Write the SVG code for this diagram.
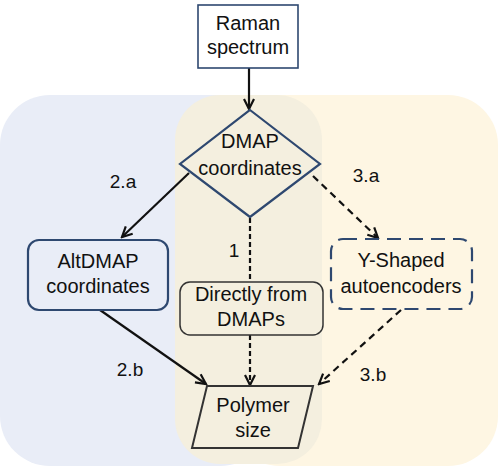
<svg xmlns="http://www.w3.org/2000/svg" width="498" height="468" viewBox="0 0 498 468">
<style>
text{font-family:"Liberation Sans",Arial,sans-serif;font-size:20px;fill:#111;text-anchor:middle}
.lbl{font-size:19px}
.arr{fill:none;stroke:#111;stroke-width:2.2}
.dash{stroke-dasharray:7 5}
.dshort{stroke-dasharray:5 3}
.blue{fill:none;stroke:#2e4870;stroke-width:2.2}
</style>
<defs>
<marker id="ah" markerUnits="userSpaceOnUse" markerWidth="14" markerHeight="14" viewBox="-12 -7 14 14" refX="0" refY="0" orient="auto">
<path d="M-10,-5 L0,0 L-10,5" fill="none" stroke="#111" stroke-width="2.2"/>
</marker>
</defs>
<g id="backgrounds">
<rect x="0" y="95" width="270" height="371" rx="50" fill="#e9edf7"/>
<rect x="230" y="95" width="268" height="371" rx="50" fill="#fef6e3"/>
<rect x="175" y="95" width="147" height="369" rx="45" fill="#f4efdf"/>
</g>
<g id="connectors">
<line class="arr" x1="249" y1="68" x2="249" y2="109" stroke="#333" marker-end="url(#ah)"/>
<line class="arr" x1="189" y1="173" x2="122" y2="237" marker-end="url(#ah)"/>
<line class="arr dash" x1="313" y1="176" x2="378" y2="238" marker-end="url(#ah)"/>
<line class="arr dshort" x1="250" y1="218" x2="250" y2="282"/>
<line class="arr dshort" x1="250" y1="335" x2="250" y2="385" marker-end="url(#ah)"/>
<line class="arr" x1="100" y1="310" x2="206" y2="384" marker-end="url(#ah)"/>
<line class="arr dash" x1="401" y1="310" x2="319" y2="384" marker-end="url(#ah)"/>
<text class="lbl" x="123" y="188">2.a</text>
<text class="lbl" x="366" y="182">3.a</text>
<text class="lbl" x="234" y="257">1</text>
<text class="lbl" x="130" y="376">2.b</text>
<text class="lbl" x="373" y="381">3.b</text>
</g>
<g id="raman">
<rect x="198" y="5" width="100" height="63" fill="#fff" stroke="#2e4870" stroke-width="1.6"/>
<text x="248" y="30">Raman</text>
<text x="248" y="54">spectrum</text>
</g>
<g id="dmap">
<polygon points="250,110 320,164 250,217 180,164" class="blue"/>
<text x="250" y="148">DMAP</text>
<text x="250" y="175">coordinates</text>
</g>
<g id="altdmap">
<rect x="28" y="240" width="140" height="70" rx="11" class="blue"/>
<text x="98" y="268">AltDMAP</text>
<text x="98" y="293">coordinates</text>
</g>
<g id="direct">
<rect x="180" y="282" width="143" height="53" rx="10" fill="none" stroke="#333" stroke-width="1.5"/>
<text x="251" y="301">Directly from</text>
<text x="251" y="326">DMAPs</text>
</g>
<g id="yshaped">
<rect x="331" y="239" width="141" height="70" rx="12" class="blue" stroke-width="2.5" stroke-dasharray="14 8"/>
<text x="401" y="267">Y-Shaped</text>
<text x="401" y="293">autoencoders</text>
</g>
<g id="polymer">
<polygon points="207,386 313,386 298,448 192,448" fill="none" stroke="#333" stroke-width="2"/>
<text x="253" y="412">Polymer</text>
<text x="253" y="437">size</text>
</g>
</svg>
